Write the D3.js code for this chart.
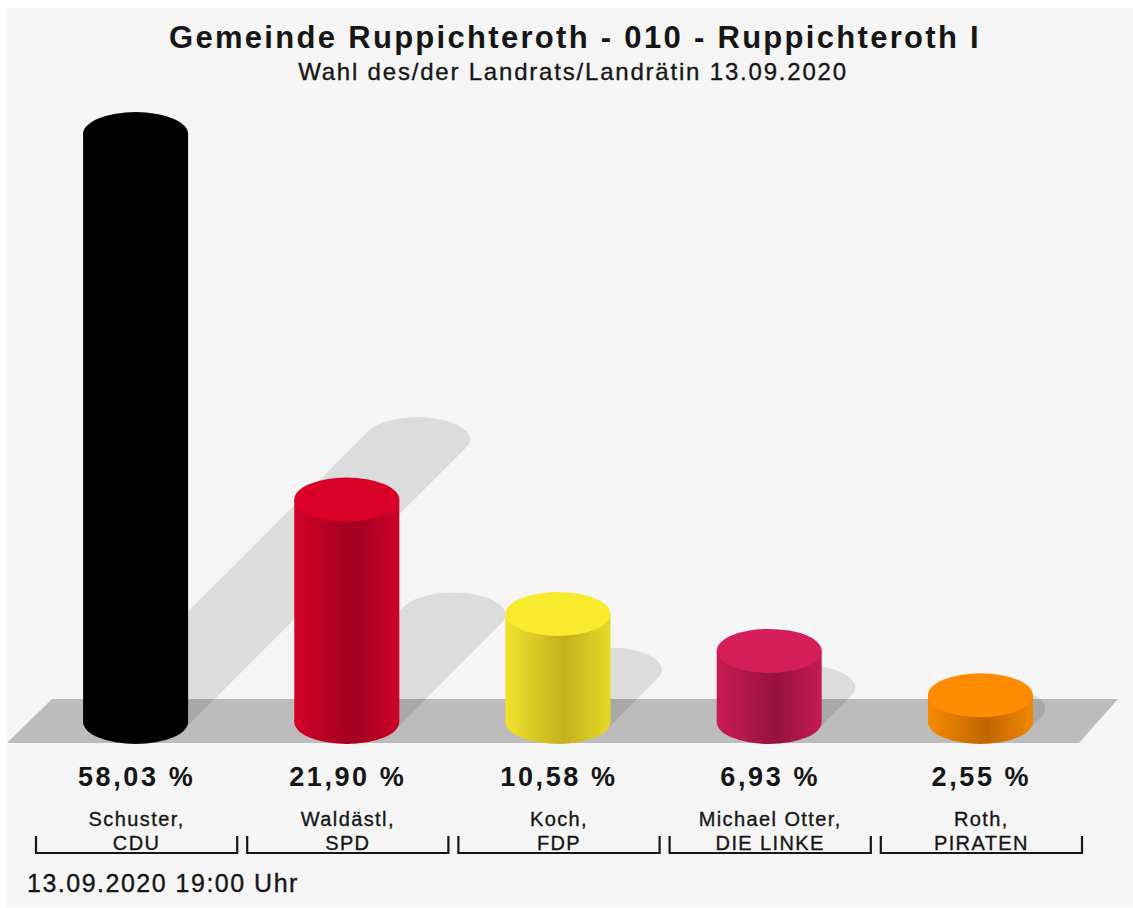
<!DOCTYPE html>
<html>
<head>
<meta charset="utf-8">
<script src="https://cdn.jsdelivr.net/npm/d3@7"></script>
<style>
  body { margin: 0; background: #fff; }
  text { font-family: "Liberation Sans", Arial, Helvetica, sans-serif; fill: #161616; }
  .thin { stroke: #161616; stroke-width: 0.35px; }
</style>
</head>
<body>
<div id="chart"></div>
<script>
// data
const candidates = ["Schuster,", "Waldästl,", "Koch,", "Michael Otter,", "Roth,"];
const parties = ["CDU", "SPD", "FDP", "DIE LINKE", "PIRATEN"];
const shares = [58.03, 21.90, 10.58, 6.93, 2.55];
const shareLabels = ["58,03 %", "21,90 %", "10,58 %", "6,93 %", "2,55 %"];
const title = "Gemeinde Ruppichteroth - 010 - Ruppichteroth I";
const subtitle = "Wahl des/der Landrats/Landrätin 13.09.2020";
const footer = "13.09.2020 19:00 Uhr";

// colours: top face, body left, body dark, body right
const colors = {
  "CDU": ["#000000", "#000000", "#000000", "#000000"],
  "SPD": ["#d9002a", "#d30029", "#a2001f", "#cd0029"],
  "FDP": ["#f8eb2d", "#eee22a", "#c2b01d", "#e6da27"],
  "DIE LINKE": ["#d41f5a", "#c91c55", "#96113e", "#c51b54"],
  "PIRATEN": ["#ff8c00", "#f68900", "#c06700", "#f08700"]
};

// dimensions
const W = 1133, H = 908;
const RX = 52.5, RY = 22;
const SHADOW = 0.48;

const svg = d3.select("#chart").append("svg")
  .attr("width", W).attr("height", H);

const data = parties.map((p, i) => ({
  party: p, candidate: candidates[i], value: shares[i], label: shareLabels[i]
}));

// scales
const x = d3.scaleBand().domain(parties).range([30, 1086]);
const y = d3.scaleLinear().domain([0, 100]).range([721, 721 - 1011.5]);
const cx = d => x(d.party) + x.bandwidth() / 2;

// gradients
const defs = svg.append("defs");
data.forEach((d, i) => {
  const c = colors[d.party];
  const g = defs.append("linearGradient").attr("id", "grad" + i)
    .attr("x1", 0).attr("x2", 1).attr("y1", 0).attr("y2", 0);
  g.append("stop").attr("offset", "0%").attr("stop-color", c[1]);
  g.append("stop").attr("offset", "56%").attr("stop-color", c[2]);
  g.append("stop").attr("offset", "100%").attr("stop-color", c[3]);
});

// background panel
svg.append("rect").attr("x", 7).attr("y", 8)
  .attr("width", W - 7).attr("height", H - 9).attr("fill", "#f5f5f5");

// title
svg.append("text").attr("x", 575).attr("y", 48)
  .attr("text-anchor", "middle").style("font-weight", "bold")
  .style("font-size", "31px").style("letter-spacing", "2.3px").text(title);
svg.append("text").attr("x", 573).attr("y", 80)
  .attr("text-anchor", "middle").attr("class", "thin")
  .style("font-size", "24px").style("letter-spacing", "1.8px").text(subtitle);

// floor
const y0 = y(0);
const [xa, xb] = x.range();
svg.append("path")
  .attr("d", d3.line()([
    [xa - 23, y0 + RY], [xa + 22, y0 - RY],
    [xb + 32, y0 - RY], [xb - 7, y0 + RY]
  ]))
  .attr("fill", "#bcbcbc");

// shadows
function ellipsePts(ex, ey) {
  return d3.range(0, 64).map(k => {
    const t = k / 64 * 2 * Math.PI;
    return [ex + RX * Math.cos(t), ey + RY * Math.sin(t)];
  });
}
svg.append("g").selectAll("path").data(data).join("path")
  .attr("d", d => {
    const h = y0 - y(d.value);
    const pts = ellipsePts(cx(d), y0)
      .concat(ellipsePts(cx(d) + h * SHADOW, y0 - h * SHADOW));
    return d3.line().curve(d3.curveLinearClosed)(d3.polygonHull(pts));
  })
  .attr("fill", "#000").attr("fill-opacity", 0.1);

// cylinders
const bars = svg.append("g").selectAll("g").data(data).join("g");
bars.append("path")
  .attr("d", d => {
    const c = cx(d), yt = y(d.value);
    return `M${c - RX},${yt}L${c - RX},${y0 + 1}A${RX},${RY} 0 0 0 ${c + RX},${y0 + 1}L${c + RX},${yt}Z`;
  })
  .attr("fill", (d, i) => `url(#grad${i})`);
bars.append("ellipse")
  .attr("cx", cx).attr("cy", d => y(d.value))
  .attr("rx", RX).attr("ry", RY)
  .attr("fill", d => colors[d.party][0]);

// labels
const labels = svg.append("g").selectAll("g").data(data).join("g")
  .attr("transform", d => `translate(${cx(d) + 1},0)`)
  .attr("text-anchor", "middle");
labels.append("text").attr("y", 786)
  .style("font-weight", "bold").style("font-size", "27px")
  .style("letter-spacing", "2.6px").text(d => d.label);
labels.append("text").attr("y", 826).attr("class", "thin")
  .style("font-size", "20px").style("letter-spacing", "1.4px")
  .text(d => d.candidate);
labels.append("text").attr("y", 850).attr("class", "thin")
  .style("font-size", "20px").style("letter-spacing", "1.4px")
  .text(d => d.party);

// brackets
const by = 853;
svg.append("g").selectAll("path").data(data).join("path")
  .attr("d", d => {
    const a = x(d.party) + 6, b = x(d.party) + x.bandwidth() - 4;
    return `M${a},${by - 17}V${by}H${b}V${by - 17}`;
  })
  .attr("fill", "none").attr("stroke", "#161616").attr("stroke-width", 2.2);

// footer
svg.append("text").attr("x", 27).attr("y", 892).attr("class", "thin")
  .style("font-size", "25px").style("letter-spacing", "1.5px").text(footer);
</script>
</body>
</html>
